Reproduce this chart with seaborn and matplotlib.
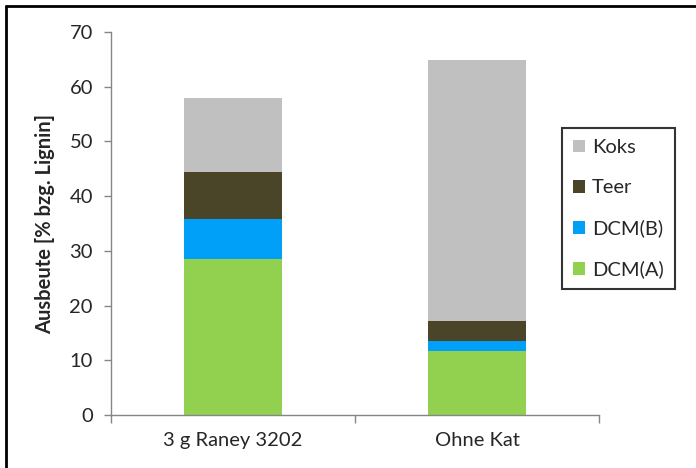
import matplotlib
matplotlib.use("Agg")
import matplotlib.pyplot as plt
import seaborn as sns
from matplotlib.lines import Line2D

# Daten
kategorien = ["3 g Raney 3202", "Ohne Kat"]
dcm_a = [28.5, 11.7]
dcm_b = [7.3, 1.8]
teer = [8.6, 3.6]
koks = [13.5, 47.7]

serien = [("DCM(A)", dcm_a, "#92D050"),
          ("DCM(B)", dcm_b, "#00A0F8"),
          ("Teer", teer, "#4A4429"),
          ("Koks", koks, "#C0C0C0")]

sns.set_style("white")
plt.rcParams["font.family"] = ["Lato", "DejaVu Sans"]

fig = plt.figure(figsize=(6.96, 4.68), dpi=100)
ax = fig.add_axes([111 / 696, 1 - 415 / 468, 488 / 696, 383 / 468])

unten = [0.0, 0.0]
for name, werte, farbe in serien:
    sns.barplot(x=kategorien, y=werte, bottom=unten, color=farbe, width=0.4,
                saturation=1, label=name, ax=ax, edgecolor="none")
    unten = [u + w for u, w in zip(unten, werte)]

ax.set_xlim(-0.5, 1.5)
ax.set_ylim(0, 70)
ax.set_yticks(range(0, 71, 10))

for s in ["top", "right"]:
    ax.spines[s].set_visible(False)
for s in ["left", "bottom"]:
    ax.spines[s].set_color("#868686")
    ax.spines[s].set_linewidth(1.0)

ax.tick_params(axis="y", which="major", direction="out", length=5, width=1,
               color="#868686", labelsize=14.5, labelcolor="#262626", pad=8, left=True)
ax.set_xticks([-0.5, 0.5, 1.5], minor=True)
ax.tick_params(axis="x", which="minor", direction="out", length=6, width=1,
               color="#868686", bottom=True)
ax.tick_params(axis="x", which="major", length=0, labelsize=14.5,
               labelcolor="#262626", pad=12)

ax.set_xlabel("")
ax.set_ylabel("Ausbeute [% bzg. Lignin]", fontsize=14.5, fontweight="bold",
              color="#262626", labelpad=10)

handles, labels = ax.get_legend_handles_labels()
leg = fig.legend(handles[::-1], labels[::-1], loc="upper left",
                 bbox_to_anchor=(562 / 696, 1 - 128 / 468), borderaxespad=0,
                 frameon=True, fontsize=14.5, labelspacing=1.15,
                 handlelength=0.6, handleheight=0.6, handletextpad=0.35,
                 borderpad=0.55, fancybox=False)
leg.get_frame().set_edgecolor("black")
leg.get_frame().set_linewidth(1.5)
if ax.get_legend() is not None:
    ax.get_legend().remove()

# Rahmen oben und links
fig.add_artist(Line2D([6 / 696, 1], [1 - 6 / 468, 1 - 6 / 468],
                      transform=fig.transFigure, color="black", lw=2))
fig.add_artist(Line2D([6 / 696, 6 / 696], [0, 1 - 6 / 468],
                      transform=fig.transFigure, color="black", lw=2))

fig.savefig("out.png", dpi=100)
